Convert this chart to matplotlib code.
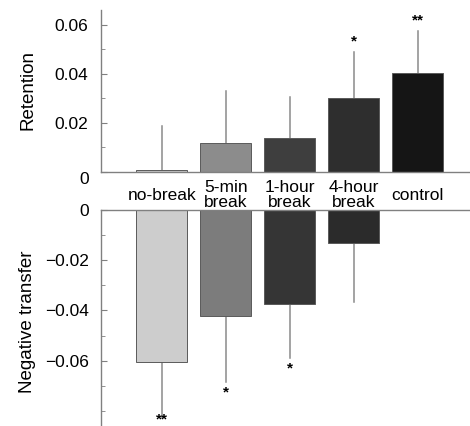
import matplotlib
matplotlib.use('Agg')
import matplotlib.pyplot as plt
import matplotlib.transforms as mtransforms
from matplotlib.ticker import MultipleLocator, FixedFormatter, FixedLocator

# ======= DATA ========
categories = ['no-break', '5-min\nbreak', '1-hour\nbreak', '4-hour\nbreak', 'control']
retention = [0.0008, 0.0118, 0.0139, 0.0302, 0.0404]
retention_err = [0.018, 0.0212, 0.0167, 0.0188, 0.0172]
retention_sig = ['', '', '', '*', '**']
transfer = [-0.0604, -0.0424, -0.0375, -0.013, 0.0]
transfer_err = [0.0226, 0.0262, 0.0215, 0.0237, 0.0]
transfer_sig = ['**', '*', '*', '', '']
top_ticks = [0, 0.02, 0.04, 0.06]
top_labels = ['0', '0.02', '0.04', '0.06']
bottom_ticks = [0, -0.02, -0.04, -0.06]
bottom_labels = ['0', '\u22120.02', '\u22120.04', '\u22120.06']
# ======================

top_colors = ['#c6c6c6', '#8c8c8c', '#3e3e3e', '#2e2e2e', '#151515']
bottom_colors = ['#cdcdcd', '#7c7c7c', '#353535', '#2b2b2b', '#ffffff']

plt.rcParams['font.family'] = ['Liberation Sans', 'DejaVu Sans']
plt.rcParams['font.size'] = 12.5
spine_color = '#808080'
err_color = '#8a8a8a'

W, H = 470, 426
fig = plt.figure(figsize=(W / 100, H / 100), dpi=100)

# pixel layout
left_px = 101
top_ax = fig.add_axes([left_px / W, 1 - 172 / H, 1 - left_px / W, (172 - 10) / H])
bot_ax = fig.add_axes([left_px / W, 0, 1 - left_px / W, 216 / H])

x = list(range(len(categories)))
xlim = (-0.95, 4.82)
ybot = -0.086

# --- top panel: retention
top_ax.bar(x, retention, width=0.8, color=top_colors, edgecolor='#5a5a5a', linewidth=0.7, zorder=2)
for xi, v, e, s in zip(x, retention, retention_err, retention_sig):
    top_ax.plot([xi, xi], [v, v + e], color=err_color, lw=1.1, zorder=1)
    if s:
        top_ax.text(xi, v + e + 0.0012, s, ha='center', va='bottom', fontsize=11, fontweight='bold')
top_ax.set_xlim(*xlim)
top_ax.set_ylim(0, 0.066)
top_ax.yaxis.set_major_locator(FixedLocator(top_ticks))
top_ax.yaxis.set_major_formatter(FixedFormatter(top_labels))
top_ax.yaxis.set_minor_locator(MultipleLocator(0.01))
top_ax.set_xticks([])
for side in ['top', 'right']:
    top_ax.spines[side].set_visible(False)
for side in ['left', 'bottom']:
    top_ax.spines[side].set_color(spine_color)
    top_ax.spines[side].set_linewidth(1.0)
top_ax.tick_params(axis='y', which='both', direction='in', color=spine_color, pad=9)
top_ax.tick_params(axis='y', which='major', length=4)
top_ax.tick_params(axis='y', which='minor', length=3)

# the "0" of the top panel sits a little below the zero line
fig.canvas.draw()
zero_lbl = top_ax.get_yticklabels()[0]
zero_lbl.set_transform(zero_lbl.get_transform() + mtransforms.ScaledTranslation(0, -6 / 100, fig.dpi_scale_trans))

# category labels between panels
for xi, c in zip(x, categories):
    top_ax.text(xi, -0.0094, c, ha='center', va='center', linespacing=0.95, clip_on=False)

# --- bottom panel: negative transfer
bot_ax.bar(x, transfer, width=0.8, color=bottom_colors, edgecolor='#5a5a5a', linewidth=0.7, zorder=2)
for xi, v, e, s in zip(x, transfer, transfer_err, transfer_sig):
    if e > 0:
        bot_ax.plot([xi, xi], [v, v - e], color=err_color, lw=1.1, zorder=1)
    if s:
        y_star = v - e - 0.0012
        if y_star - 0.004 < ybot:
            # no room below the bar: keep the stars inside the figure
            bot_ax.text(xi, ybot, s, ha='center', va='bottom', fontsize=11, fontweight='bold', zorder=3)
        else:
            bot_ax.text(xi, y_star, s, ha='center', va='top', fontsize=11, fontweight='bold')
bot_ax.set_xlim(*xlim)
bot_ax.set_ylim(ybot, 0)
bot_ax.yaxis.set_major_locator(FixedLocator(bottom_ticks))
bot_ax.yaxis.set_major_formatter(FixedFormatter(bottom_labels))
bot_ax.yaxis.set_minor_locator(MultipleLocator(0.01))
bot_ax.set_xticks([])
for side in ['bottom', 'right']:
    bot_ax.spines[side].set_visible(False)
for side in ['left', 'top']:
    bot_ax.spines[side].set_color(spine_color)
    bot_ax.spines[side].set_linewidth(1.0)
bot_ax.tick_params(axis='y', which='both', direction='in', color=spine_color, pad=9)
bot_ax.tick_params(axis='y', which='major', length=4)
bot_ax.tick_params(axis='y', which='minor', length=3)

fig.text(28 / W, 1 - 90 / H, 'Retention', rotation=90, ha='center', va='center', fontsize=13.5)
fig.text(28 / W, 1 - 322 / H, 'Negative transfer', rotation=90, ha='center', va='center', fontsize=13.5)

fig.savefig('out.png', dpi=100)
